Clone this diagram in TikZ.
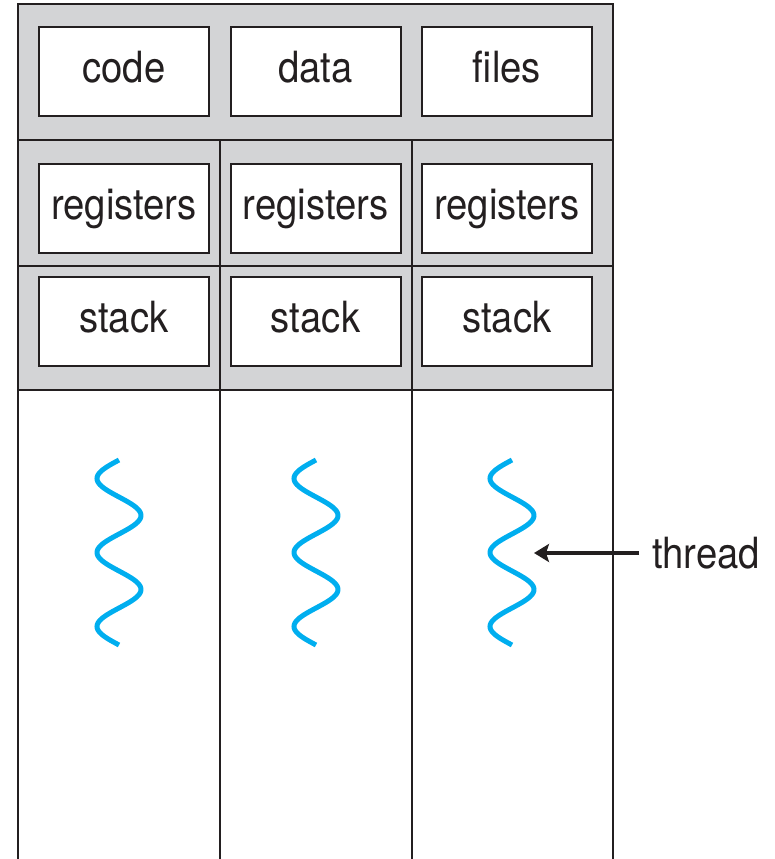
\documentclass[tikz,border=0pt]{standalone}
\usepackage{fontspec}
\setmainfont{TeX Gyre Heros}
\usetikzlibrary{arrows.meta}
\definecolor{panelgray}{RGB}{211,212,214}
\definecolor{linegray}{RGB}{35,31,32}
\definecolor{threadcyan}{RGB}{0,174,239}
\newcommand{\lbl}[1]{\scalebox{0.89}[1]{#1}}
\tikzset{
  box/.style={draw=linegray, line width=2pt, fill=white, minimum width=170pt, minimum height=89pt, inner sep=0pt, font=\fontsize{43}{45}\selectfont, text=linegray, text height=31pt, text depth=9pt},
  frame/.style={draw=linegray, line width=2pt},
  thin/.style={draw=linegray, line width=1.5pt},
  squig/.style={draw=threadcyan, line width=5pt, line cap=butt},
  pointer/.style={draw=linegray, line width=4.5pt, -{Stealth[length=15pt,width=18pt,inset=3pt]}},
}
\begin{document}
\begin{tikzpicture}[x=1pt,y=-1pt]
\useasboundingbox (0,0) rectangle (774,859);
% gray panel
\fill[panelgray] (18,4) rectangle (613,390);
% frame lines
\draw[frame] (18,859) -- (18,4) -- (613,4) -- (613,859);
\draw[frame] (18,140) -- (613,140);
\draw[frame] (18,266) -- (613,266);
\draw[frame] (18,390) -- (613,390);
\draw[thin] (220,140) -- (220,859);
\draw[thin] (412,140) -- (412,859);
% boxes
\node[box] (code)  at (124,71.5)  {\lbl{code}};
\node[box] (data)  at (315.5,71.5) {\lbl{data}};
\node[box] (files) at (507,71.5)  {\lbl{files}};
\node[box] (reg1) at (124,208)   {\lbl{registers}};
\node[box] (reg2) at (315.5,208) {\lbl{registers}};
\node[box] (reg3) at (507,208)   {\lbl{registers}};
\node[box] (stk1) at (124,321.5)   {\lbl{stack}};
\node[box] (stk2) at (315.5,321.5) {\lbl{stack}};
\node[box] (stk3) at (507,321.5)   {\lbl{stack}};
% threads
\foreach \c in {119,316,512}{
  \draw[squig] plot[domain=0:185, samples=120, smooth] ({\c - 22*sin(\x*4.86486)}, {460+\x});
}
\coordinate (t3) at (534,553);
\node[anchor=base west, inner sep=0pt, font=\fontsize{43}{45}\selectfont, text=linegray, text height=30pt, text depth=0pt] (thread) at (652,568) {\lbl{thread}};
\draw[pointer] ([xshift=-13pt]thread.west) -- (t3);
\end{tikzpicture}
\end{document}
